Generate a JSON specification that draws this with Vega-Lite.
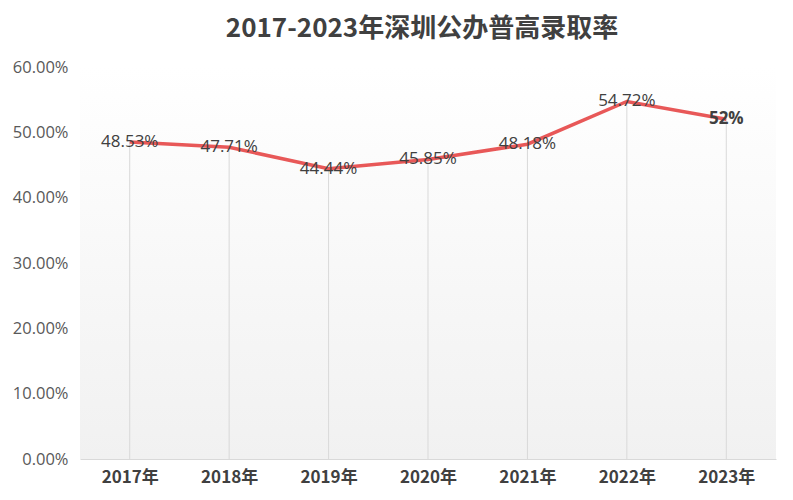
{
  "$schema": "https://vega.github.io/schema/vega-lite/v6.json",
  "autosize": {"type": "none"},
  "width": 696,
  "height": 392,
  "padding": {"left": 80, "top": 67, "right": 17, "bottom": 41},
  "background": "#ffffff",
  "config": {
    "view": {"stroke": null},
    "font": "Noto Sans CJK SC"
  },
  "title": {
    "text": "2017-2023年深圳公办普高录取率",
    "fontSize": 26,
    "fontWeight": "bold",
    "color": "#404040",
    "font": "Noto Sans CJK SC",
    "offset": 17,
    "dx": -6
  },
  "data": {
    "values": [
      {"year": "2017年", "rate": 0.4853, "label": "48.53%", "bold": "n"},
      {"year": "2018年", "rate": 0.4771, "label": "47.71%", "bold": "n"},
      {"year": "2019年", "rate": 0.4444, "label": "44.44%", "bold": "n"},
      {"year": "2020年", "rate": 0.4585, "label": "45.85%", "bold": "n"},
      {"year": "2021年", "rate": 0.4818, "label": "48.18%", "bold": "n"},
      {"year": "2022年", "rate": 0.5472, "label": "54.72%", "bold": "n"},
      {"year": "2023年", "rate": 0.52, "label": "52%", "bold": "y"}
    ]
  },
  "encoding": {
    "x": {
      "field": "year",
      "type": "nominal",
      "sort": null,
      "scale": {"type": "point", "padding": 0.5},
      "axis": {
        "title": null,
        "labelAngle": 0,
        "labelFontSize": 17,
        "labelFontWeight": "bold",
        "labelColor": "#404040",
        "labelPadding": 10,
        "ticks": false,
        "grid": false,
        "domainColor": "#d9d9d9",
        "domainWidth": 1
      }
    }
  },
  "layer": [
    {
      "data": {"values": [{"k": 1}]},
      "mark": {
        "type": "rect",
        "fill": {
          "gradient": "linear",
          "x1": 0, "y1": 1, "x2": 0, "y2": 0,
          "stops": [
            {"offset": 0, "color": "#f1f1f1"},
            {"offset": 1, "color": "#ffffff"}
          ]
        }
      },
      "encoding": {
        "x": null,
        "y": {"datum": 0, "type": "quantitative"},
        "y2": {"datum": 0.6}
      }
    },
    {
      "mark": {"type": "rule", "color": "#d9d9d9", "strokeWidth": 1},
      "encoding": {
        "y": {
          "field": "rate",
          "type": "quantitative",
          "scale": {"domain": [0, 0.6]},
          "axis": {
            "title": null,
            "format": ".2%",
            "values": [0, 0.1, 0.2, 0.3, 0.4, 0.5, 0.6],
            "labelFontSize": 16.5,
            "labelColor": "#595959",
            "labelFont": "Open Sans",
            "labelPadding": 12,
            "ticks": false,
            "domain": false,
            "grid": false
          }
        },
        "y2": {"datum": 0}
      }
    },
    {
      "mark": {"type": "line", "color": "#e85858", "strokeWidth": 3.5},
      "encoding": {
        "y": {"field": "rate", "type": "quantitative"}
      }
    },
    {
      "transform": [{"filter": "datum.bold == 'n'"}],
      "mark": {"type": "text", "fontSize": 17, "color": "#404040", "font": "Open Sans", "baseline": "middle", "align": "center"},
      "encoding": {
        "y": {"field": "rate", "type": "quantitative"},
        "text": {"field": "label"}
      }
    },
    {
      "transform": [{"filter": "datum.bold == 'y'"}],
      "mark": {"type": "text", "fontSize": 17, "fontWeight": "bold", "color": "#404040", "font": "Open Sans", "baseline": "middle", "align": "center"},
      "encoding": {
        "y": {"field": "rate", "type": "quantitative"},
        "text": {"field": "label"}
      }
    }
  ]
}
